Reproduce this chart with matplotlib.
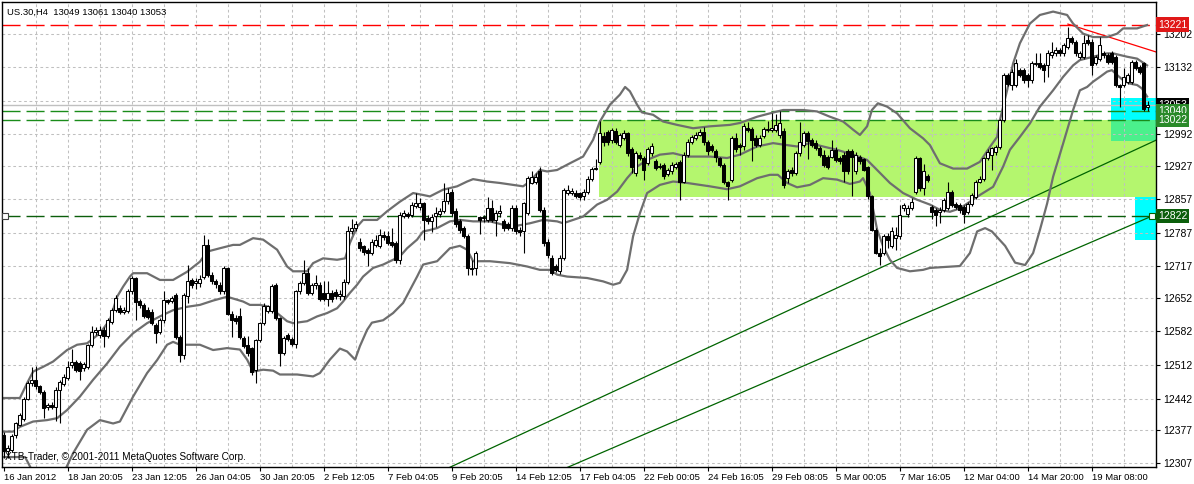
# %%
import numpy as np
import matplotlib
matplotlib.use("Agg")
import matplotlib.pyplot as plt
from matplotlib.transforms import blended_transform_factory

plt.rcParams["font.family"] = ["Liberation Sans", "DejaVu Sans"]

# %%
# candles US.30 H4 (one row = 10 bars)
opens = [
    12366, 12333, 12335, 12366, 12387, 12399, 12442, 12474, 12480, 12467,
    12456, 12425, 12428, 12425, 12460, 12472, 12484, 12512, 12518, 12515,
    12506, 12508, 12553, 12580, 12575, 12585, 12572, 12602, 12626, 12631,
    12622, 12625, 12665, 12692, 12645, 12637, 12627, 12623, 12595, 12581,
    12605, 12647, 12645, 12658, 12571, 12533, 12655, 12689, 12683, 12683,
    12696, 12762, 12700, 12686, 12678, 12665, 12713, 12619, 12610, 12614,
    12568, 12554, 12547, 12502, 12564, 12599, 12624, 12624, 12679, 12609,
    12537, 12575, 12566, 12556, 12665, 12682, 12703, 12662, 12679, 12679,
    12661, 12649, 12661, 12663, 12655, 12655, 12684, 12790, 12797, 12769,
    12759, 12752, 12745, 12762, 12759, 12783, 12780, 12769, 12766, 12731,
    12823, 12826, 12825, 12842, 12840, 12849, 12818, 12811, 12822, 12826,
    12832, 12853, 12873, 12832, 12811, 12797, 12781, 12714, 12714, 12821,
    12818, 12814, 12838, 12814, 12828, 12811, 12805, 12797, 12839, 12793,
    12790, 12828, 12891, 12892, 12915, 12835, 12769, 12735, 12717, 12707,
    12735, 12870, 12870, 12871, 12870, 12864, 12873, 12899, 12920, 12935,
    12988, 12998, 12981, 13000, 12970, 12984, 12995, 12961, 12911, 12950,
    12943, 12932, 12954, 12936, 12927, 12929, 12910, 12915, 12925, 12934,
    12894, 12950, 12977, 12984, 12991, 12998, 12977, 12967, 12957, 12943,
    12929, 12893, 12898, 12984, 12970, 12967, 13005, 13003, 12984, 12970,
    12988, 13001, 13002, 13002, 12990, 13000, 12901, 12918, 12912, 12953,
    12970, 12995, 12981, 12974, 12964, 12950, 12946, 12946, 12960, 12943,
    12950, 12957, 12957, 12915, 12946, 12940, 12924, 12863, 12794, 12745,
    12745, 12780, 12759, 12776, 12780, 12839, 12827, 12839, 12873, 12943,
    12880, 12905, 12840, 12834, 12830, 12835, 12838, 12873, 12848, 12846,
    12841, 12831, 12848, 12862, 12894, 12900, 12942, 12949, 12956, 12966,
    13022, 13116, 13095, 13095, 13126, 13126, 13116, 13105, 13138, 13140,
    13136, 13136, 13157, 13161, 13169, 13161, 13175, 13192, 13185, 13154,
    13154, 13189, 13185, 13140, 13150, 13161, 13157, 13161, 13154, 13095,
    13095, 13102, 13102, 13143, 13133, 13140, 13049,
]
highs = [
    12372, 12345, 12368, 12394, 12412, 12445, 12478, 12508, 12509, 12470,
    12460, 12432, 12434, 12465, 12481, 12492, 12520, 12546, 12522, 12520,
    12518, 12556, 12592, 12590, 12592, 12590, 12610, 12630, 12658, 12636,
    12632, 12670, 12697, 12696, 12650, 12640, 12633, 12628, 12600, 12610,
    12665, 12650, 12656, 12662, 12575, 12662, 12720, 12692, 12692, 12700,
    12783, 12774, 12705, 12690, 12685, 12718, 12716, 12624, 12615, 12630,
    12572, 12572, 12550, 12566, 12602, 12640, 12636, 12680, 12682, 12612,
    12572, 12578, 12570, 12668, 12686, 12731, 12714, 12683, 12700, 12684,
    12686, 12686, 12667, 12670, 12667, 12690, 12802, 12815, 12812, 12776,
    12762, 12755, 12775, 12783, 12795, 12790, 12790, 12797, 12770, 12830,
    12835, 12830, 12852, 12870, 12860, 12852, 12825, 12826, 12840, 12838,
    12890, 12880, 12878, 12838, 12815, 12802, 12785, 12731, 12750, 12822,
    12825, 12862, 12856, 12835, 12845, 12815, 12810, 12845, 12845, 12800,
    12852, 12905, 12915, 12912, 12925, 12840, 12775, 12740, 12722, 12740,
    12880, 12887, 12880, 12876, 12872, 12878, 12905, 12925, 12941, 13020,
    12998, 13002, 13005, 13005, 12995, 13002, 12998, 12966, 12958, 12955,
    12948, 12966, 12975, 12940, 12932, 12932, 12922, 12935, 12935, 12938,
    12955, 12982, 12990, 12998, 13003, 13008, 12980, 12972, 12962, 12946,
    12932, 12896, 12988, 12995, 12975, 13015, 13019, 13008, 12990, 12990,
    13008, 13020, 13036, 13035, 13040, 13005, 12920, 12925, 12958, 13019,
    13000, 13000, 12985, 12980, 12968, 12960, 12950, 12981, 12965, 12948,
    12955, 12962, 12962, 12955, 12950, 12943, 12927, 12866, 12797, 12755,
    12785, 12787, 12800, 12800, 12846, 12850, 12846, 12860, 12948, 12946,
    12930, 12910, 12845, 12838, 12840, 12860, 12894, 12876, 12852, 12850,
    12845, 12852, 12870, 12898, 12905, 12946, 12962, 12966, 12970, 13025,
    13120, 13120, 13128, 13150, 13130, 13130, 13120, 13145, 13161, 13161,
    13140, 13168, 13185, 13175, 13173, 13182, 13216, 13198, 13188, 13166,
    13199, 13199, 13190, 13158, 13195, 13166, 13161, 13166, 13158, 13098,
    13130, 13120, 13147, 13147, 13137, 13144, 13061,
]
lows = [
    12318, 12318, 12330, 12359, 12384, 12396, 12438, 12467, 12462, 12452,
    12401, 12418, 12420, 12395, 12392, 12468, 12480, 12505, 12498, 12480,
    12500, 12503, 12549, 12574, 12568, 12550, 12568, 12598, 12622, 12618,
    12618, 12620, 12660, 12606, 12630, 12610, 12608, 12595, 12557, 12577,
    12600, 12638, 12640, 12566, 12519, 12525, 12640, 12672, 12670, 12675,
    12690, 12695, 12680, 12672, 12660, 12660, 12615, 12571, 12598, 12565,
    12548, 12530, 12490, 12474, 12560, 12595, 12620, 12620, 12605, 12509,
    12532, 12562, 12552, 12547, 12660, 12678, 12658, 12658, 12670, 12645,
    12645, 12634, 12644, 12650, 12648, 12650, 12680, 12785, 12790, 12750,
    12740, 12717, 12740, 12758, 12755, 12772, 12762, 12758, 12725, 12722,
    12818, 12818, 12820, 12838, 12835, 12772, 12806, 12788, 12800, 12820,
    12828, 12848, 12822, 12800, 12787, 12776, 12700, 12700, 12700, 12785,
    12810, 12810, 12810, 12780, 12820, 12790, 12793, 12790, 12785, 12780,
    12745, 12825, 12888, 12888, 12830, 12760, 12735, 12700, 12705, 12702,
    12730, 12865, 12865, 12860, 12856, 12855, 12868, 12895, 12918, 12930,
    12968, 12970, 12975, 12972, 12965, 12980, 12948, 12911, 12905, 12938,
    12898, 12928, 12948, 12918, 12920, 12900, 12905, 12910, 12920, 12856,
    12890, 12945, 12972, 12980, 12988, 12970, 12950, 12955, 12935, 12925,
    12888, 12856, 12893, 12955, 12950, 12960, 12998, 12936, 12966, 12966,
    12984, 12998, 12998, 12998, 12985, 12880, 12890, 12905, 12908, 12948,
    12965, 12940, 12965, 12960, 12946, 12925, 12920, 12942, 12935, 12930,
    12894, 12910, 12863, 12910, 12930, 12915, 12858, 12790, 12742, 12721,
    12740, 12755, 12755, 12752, 12775, 12832, 12820, 12835, 12868, 12875,
    12865, 12893, 12815, 12802, 12808, 12830, 12835, 12840, 12836, 12828,
    12807, 12826, 12844, 12858, 12890, 12896, 12938, 12918, 12950, 12962,
    13018, 13094, 13085, 13090, 13112, 13100, 13091, 13100, 13134, 13128,
    13102, 13112, 13152, 13156, 13155, 13156, 13170, 13180, 13156, 13150,
    13150, 13178, 13116, 13136, 13145, 13152, 13138, 13138, 13090, 13050,
    13090, 13098, 13098, 13126, 13119, 13040, 13040,
]
closes = [
    12332, 12338, 12363, 12390, 12408, 12440, 12474, 12480, 12467, 12456,
    12422, 12428, 12425, 12460, 12477, 12487, 12508, 12518, 12502, 12500,
    12513, 12553, 12581, 12585, 12585, 12572, 12605, 12626, 12651, 12622,
    12627, 12666, 12692, 12644, 12637, 12613, 12612, 12599, 12578, 12605,
    12647, 12643, 12651, 12571, 12533, 12658, 12686, 12678, 12687, 12690,
    12762, 12700, 12686, 12681, 12665, 12713, 12619, 12606, 12604, 12571,
    12551, 12537, 12498, 12564, 12599, 12634, 12634, 12677, 12609, 12537,
    12568, 12566, 12556, 12665, 12682, 12703, 12662, 12679, 12682, 12649,
    12649, 12661, 12649, 12655, 12660, 12684, 12790, 12797, 12805, 12755,
    12748, 12745, 12769, 12772, 12783, 12778, 12766, 12762, 12731, 12825,
    12828, 12822, 12845, 12849, 12850, 12814, 12811, 12821, 12828, 12832,
    12853, 12870, 12828, 12806, 12793, 12780, 12714, 12711, 12745, 12814,
    12821, 12838, 12814, 12828, 12833, 12797, 12797, 12839, 12790, 12788,
    12849, 12901, 12903, 12903, 12835, 12766, 12741, 12703, 12710, 12735,
    12877, 12877, 12875, 12864, 12862, 12873, 12899, 12920, 12922, 12995,
    12977, 12977, 13002, 12977, 12991, 12995, 12953, 12925, 12953, 12943,
    12918, 12961, 12967, 12922, 12925, 12906, 12918, 12929, 12930, 12894,
    12950, 12977, 12986, 12991, 12998, 12977, 12957, 12960, 12946, 12929,
    12892, 12885, 12984, 12961, 12966, 13009, 13002, 12981, 12970, 12984,
    13003, 13004, 13006, 13012, 13015, 12887, 12915, 12912, 12953, 12977,
    12995, 12978, 12970, 12964, 12950, 12929, 12925, 12960, 12939, 12936,
    12915, 12915, 12946, 12950, 12936, 12918, 12863, 12794, 12745, 12738,
    12780, 12773, 12790, 12783, 12825, 12846, 12839, 12852, 12943, 12880,
    12915, 12897, 12830, 12824, 12834, 12855, 12873, 12845, 12841, 12834,
    12827, 12848, 12866, 12894, 12900, 12942, 12956, 12963, 12966, 13022,
    13116, 13098, 13123, 13140, 13116, 13105, 13105, 13140, 13140, 13133,
    13126, 13161, 13164, 13169, 13161, 13178, 13192, 13185, 13161, 13161,
    13182, 13182, 13136, 13154, 13178, 13157, 13143, 13143, 13095, 13091,
    13112, 13116, 13143, 13130, 13123, 13046, 13053,
]

# Bollinger bands (bar position, price)
upper_x = [0, 4.1, 5.9, 7.4, 9.9, 12.4, 15.9, 18.4, 20.9, 24.1, 26.6, 28.4, 29.9, 31.6, 32.4,
           35.9, 39.1, 42.4, 45.9, 49.1, 50.9, 54.1, 57.4, 59.1, 62.4, 64.9, 68.4, 70.9, 72.4,
           75.9, 77.4, 79.9, 83.4, 85.4, 86.6, 88.4, 89.9, 93.4, 95.9, 99.1, 102.4, 104.9,
           106.6, 109.9, 113.4, 115.9, 117.4, 120.9, 124.1, 127.4, 129.9, 131.6, 134.1, 135.9,
           138.4, 141.6, 144.9, 147.4, 149.1, 151.6, 154.1, 155.4, 156.6, 158.4, 159.6, 162.4,
           164.9, 168.4, 172.4, 176.6, 181.6, 184.1, 188.4, 191.6, 194.9, 199.9, 203.4, 206.6,
           209.9, 212.4, 214.1, 215.9, 217.1, 218.6, 220.9, 223.4, 226.6, 229.9, 231.6, 234.1,
           237.4, 240.9, 244.1, 246.6, 248.4, 249.1, 250.9, 252.4, 254.1, 256.6, 259.1, 262.4,
           265.9, 267.4, 269.9, 272.4, 275.9, 278.4, 279.9, 283.4, 285.9]
upper_y = [12443, 12443, 12474, 12498, 12508, 12519, 12543, 12554, 12557, 12578, 12606, 12654,
           12675, 12696, 12703, 12703, 12689, 12689, 12706, 12727, 12748, 12755, 12762, 12762,
           12776, 12773, 12752, 12717, 12707, 12707, 12724, 12734, 12731, 12734, 12766, 12800,
           12814, 12814, 12832, 12852, 12870, 12866, 12863, 12877, 12884, 12894, 12899, 12894,
           12891, 12887, 12884, 12894, 12918, 12915, 12918, 12932, 12946, 12981, 13019, 13054,
           13075, 13091, 13082, 13054, 13038, 13033, 13019, 13012, 13005, 13009, 13012, 13016,
           13029, 13036, 13043, 13043, 13040, 13029, 13019, 13002, 12991, 13009, 13043, 13057,
           13050, 13036, 13005, 12984, 12970, 12932, 12921, 12921, 12935, 12966, 12987, 13022,
           13084, 13140, 13182, 13223, 13241, 13248, 13241, 13223, 13202, 13195, 13195, 13202,
           13213, 13213, 13220]

mid_x = [0, 2.4, 4.1, 7.4, 10.9, 13.4, 15.9, 19.1, 22.4, 25.9, 29.1, 32.4, 35.9, 39.1, 42.4,
         45.9, 49.1, 52.4, 55.9, 59.9, 61.6, 64.1, 65.9, 68.4, 70.9, 72.4, 75.9, 78.4, 80.9,
         83.4, 84.9, 86.6, 88.4, 89.9, 92.4, 94.9, 97.4, 99.1, 100.9, 103.4, 104.9, 106.6,
         108.4, 111.6, 114.1, 117.4, 121.6, 124.9, 128.4, 131.6, 134.9, 138.4, 139.9, 142.4,
         144.9, 148.4, 150.9, 153.4, 155.9, 158.4, 160.9, 164.1, 167.4, 170.9, 176.6, 180.9,
         184.1, 188.4, 192.4, 194.9, 198.4, 201.6, 204.9, 208.4, 212.4, 215.9, 218.4, 221.6,
         224.9, 228.4, 231.6, 234.1, 236.6, 239.1, 241.6, 244.1, 247.4, 249.9, 251.6, 254.1,
         256.6, 259.1, 262.4, 264.9, 267.4, 269.1, 272.4, 275.9, 277.4, 280.9, 283.4, 285.9]
mid_y = [12373, 12373, 12383, 12394, 12397, 12401, 12418, 12446, 12481, 12515, 12550, 12578,
         12599, 12613, 12626, 12633, 12637, 12646, 12654, 12644, 12637, 12637, 12634, 12620,
         12603, 12599, 12603, 12613, 12620, 12630, 12644, 12662, 12679, 12696, 12714, 12721,
         12731, 12738, 12755, 12773, 12790, 12793, 12797, 12811, 12814, 12811, 12811, 12804,
         12802, 12807, 12814, 12811, 12807, 12814, 12821, 12846, 12856, 12873, 12901, 12925,
         12939, 12950, 12953, 12946, 12946, 12943, 12950, 12967, 12974, 12971, 12967, 12974,
         12967, 12960, 12950, 12939, 12918, 12891, 12870, 12856, 12846, 12835, 12831, 12838,
         12852, 12866, 12883, 12925, 12960, 12987, 13015, 13050, 13084, 13112, 13136, 13147,
         13154, 13161, 13161, 13154, 13150, 13136]

lower_x = [0, 5.4, 7.9, 10.4, 13.4, 15.4, 17.4, 20.9, 24.1, 27.4, 29.1, 32.4, 35.9, 38.4,
           40.9, 42.4, 44.1, 49.1, 52.4, 55.9, 59.1, 60.9, 62.4, 64.9, 67.4, 69.1, 73.4, 77.4,
           79.1, 81.6, 84.1, 85.9, 87.9, 89.1, 90.9, 92.1, 94.9, 97.4, 99.9, 103.4, 104.9,
           108.4, 111.6, 114.1, 115.9, 117.4, 121.6, 126.6, 130.9, 134.1, 136.6, 138.4, 140.9,
           145.9, 149.9, 152.4, 154.1, 155.9, 157.4, 159.1, 160.9, 164.1, 167.4, 170.9, 176.6,
           180.9, 184.1, 188.4, 191.6, 193.6, 195.9, 198.4, 201.6, 204.9, 208.4, 211.6, 214.1,
           214.9, 216.6, 218.4, 219.9, 221.6, 223.4, 226.6, 229.9, 231.6, 239.1, 241.6, 243.4,
           245.4, 247.1, 250.4, 252.9, 255.4, 257.4, 259.1, 260.9, 262.4, 264.9, 267.4, 269.1,
           270.9, 272.4, 274.1, 275.9, 277.1, 278.4, 279.9, 281.6, 283.4, 284.6, 285.9]
lower_y = [12320, 12320, 12280, 12262, 12270, 12293, 12328, 12377, 12397, 12390, 12394, 12446,
           12495, 12522, 12554, 12560, 12554, 12554, 12543, 12547, 12544, 12523, 12498, 12502,
           12500, 12492, 12492, 12488, 12495, 12523, 12546, 12540, 12523, 12551, 12585, 12600,
           12605, 12620, 12641, 12696, 12721, 12728, 12755, 12760, 12752, 12728, 12728, 12724,
           12717, 12710, 12710, 12700, 12696, 12693, 12686, 12679, 12683, 12710, 12780, 12828,
           12870, 12887, 12894, 12891, 12884, 12878, 12884, 12901, 12908, 12908, 12891, 12882,
           12887, 12901, 12898, 12889, 12894, 12901, 12870, 12794, 12759, 12731, 12714, 12707,
           12710, 12714, 12718, 12745, 12790, 12797, 12790, 12760, 12725, 12720, 12745, 12793,
           12848, 12904, 12973, 13043, 13084, 13091, 13102, 13112, 13123, 13126, 13116, 13105,
           13098, 13095, 13088, 13071]

# chart objects
green_zone = [148.9, 12862, 13022]       # start bar, bottom, top
cyan_zone_1 = [276.9, 12979, 13068]
cyan_zone_2 = [282.9, 12772, 12862]
trend_red = ([266.1, 290.0], [13222, 13159])
trend_green_1 = ([109.6, 288.1], [12291, 12980])
trend_green_2 = ([138.9, 287.1], [12291, 12822])
level_red = 13221
levels_green = [13040, 13022]
level_dark = 12822
bid = 13053

price_ticks = [13202, 13132, 12992, 12927, 12857, 12787, 12717, 12652, 12582, 12512, 12442,
               12377, 12307]
grid_prices = [13202, 13132, 13062, 12992, 12927, 12857, 12787, 12717, 12652, 12582, 12512,
               12442, 12377, 12307]
time_labels = ["16 Jan 2012", "18 Jan 20:05", "23 Jan 12:05", "26 Jan 04:05", "30 Jan 20:05",
               "2 Feb 12:05", "7 Feb 04:05", "9 Feb 20:05", "14 Feb 12:05", "17 Feb 04:05",
               "22 Feb 00:05", "24 Feb 16:05", "29 Feb 08:05", "5 Mar 00:05", "7 Mar 16:05",
               "12 Mar 04:00", "14 Mar 20:00", "19 Mar 08:00"]

# %%
W, H = 1194, 484
fig = plt.figure(figsize=(W / 100, H / 100), dpi=100)
fig.patch.set_facecolor("white")
ax = fig.add_axes([2 / W, (H - 467) / H, (1156 - 2) / W, (467 - 2) / H])

bars_o = np.array(opens, dtype=float)
bars_c = np.array(closes, dtype=float)
bars_h = np.array(highs, dtype=float)
bars_l = np.array(lows, dtype=float)
idx = np.arange(len(bars_o))

x_left, x_right = -0.375, 288.125
y_bot, y_top = 12299.3, 13268.0
ax.set_xlim(x_left, x_right)
ax.set_ylim(y_bot, y_top)

grid_style = dict(color="#c0c0c0", lw=0.75, ls=(0, (2.6, 2.6)))

# zones
ax.fill_between([green_zone[0], x_right], green_zone[1], green_zone[2],
                color="#b4f66e", lw=0, zorder=0.5)
ax.fill_between([cyan_zone_1[0], x_right], cyan_zone_1[1], cyan_zone_1[2],
                color="#00ffff", lw=0, zorder=0.6)
ax.fill_between([cyan_zone_1[0], x_right], max(cyan_zone_1[1], green_zone[1]),
                min(cyan_zone_1[2], green_zone[2]), color="#4bf08c", lw=0, zorder=0.7)
ax.fill_between([cyan_zone_2[0], x_right], cyan_zone_2[1], cyan_zone_2[2],
                color="#00ffff", lw=0, zorder=0.6)

# grid over the zones
for k in range(8, 288, 8):
    ax.axvline(k, zorder=0.8, **grid_style)
for p in grid_prices:
    ax.axhline(p, zorder=0.8, **grid_style)

# horizontal levels
ax.axhline(bid, color="#c0c0c0", lw=1.0, zorder=1)
ax.axhline(level_red, color="#ff0000", lw=1.0, ls=(0, (13, 4.3)), zorder=1.2)
for p in levels_green:
    ax.axhline(p, color="#1a8c1a", lw=1.0, ls=(0, (13, 4.3)), zorder=1.2)
ax.axhline(level_dark, color="#0b5e0b", lw=1.0, ls=(0, (13, 4.3)), zorder=1.2)

# trend lines
ax.plot(*trend_red, color="#ff0000", lw=0.9, zorder=1.3)
ax.plot(*trend_green_1, color="#006400", lw=0.9, zorder=1.3)
ax.plot(*trend_green_2, color="#006400", lw=0.9, zorder=1.3)
ax.plot([trend_green_2[0][1]], [trend_green_2[1][1]], marker="s", ms=4.5, mfc="white",
        mec="#006400", mew=0.8, zorder=5, clip_on=False)
ax.plot([0.4], [level_dark], marker="s", ms=4.5, mfc="white", mec="#404040", mew=0.8,
        zorder=5, clip_on=False)

# bollinger bands
for bx, by in [(upper_x, upper_y), (mid_x, mid_y), (lower_x, lower_y)]:
    ax.plot(bx, by, color="#6e6e6e", lw=1.6, solid_joinstyle="round", zorder=2)

# candles
body_lo = np.minimum(bars_o, bars_c)
body_hi = np.maximum(bars_o, bars_c)
ax.vlines(idx, np.minimum(bars_l, body_lo), np.maximum(bars_h, body_hi),
          color="black", lw=0.8, zorder=3)
up = bars_c >= bars_o
ax.bar(idx[up], np.maximum(body_hi - body_lo, 0.5)[up], bottom=body_lo[up], width=0.6,
       color="white", edgecolor="black", linewidth=0.75, zorder=4)
ax.bar(idx[~up], np.maximum(body_hi - body_lo, 0.5)[~up], bottom=body_lo[~up], width=0.6,
       color="black", edgecolor="black", linewidth=0.75, zorder=4)

# axes style
for s in ["left", "top", "right", "bottom"]:
    ax.spines[s].set_color("black")
    ax.spines[s].set_linewidth(1.0)
ax.yaxis.tick_right()
ax.set_yticks(price_ticks)
ax.set_yticklabels([str(p) for p in price_ticks])
ax.tick_params(axis="y", length=3, width=0.8, pad=2, labelsize=7.5, colors="black")
ax.set_xticks(np.arange(len(time_labels)) * 16)
ax.set_xticklabels(time_labels, ha="left")
ax.tick_params(axis="x", length=3, width=0.8, pad=1.5, labelsize=6.8, colors="black")

# price boxes on the scale
tr = blended_transform_factory(ax.transAxes, ax.transData)
boxes = [(13221, "#e01818"), (13053, "#000000"), (13040, "#2a8a2a"), (13022, "#2a8a2a"),
         (12822, "#0b5e0b")]
for val, col in boxes:
    ax.text(1.0015, val, str(val), transform=tr, ha="left", va="center", fontsize=7.5,
            color="white", bbox=dict(boxstyle="square,pad=0.2", fc=col, ec="none"),
            zorder=10, clip_on=False)

fig.text(7 / W, 1 - 12 / H, "US.30,H4  13049 13061 13040 13053", fontsize=6.8,
         ha="left", va="center", color="black")
fig.text(5 / W, 1 - 457 / H, "XTB-Trader, \u00a9 2001-2011 MetaQuotes Software Corp.",
         fontsize=7.2, ha="left", va="center", color="black")

fig.savefig("out.png", dpi=100)
